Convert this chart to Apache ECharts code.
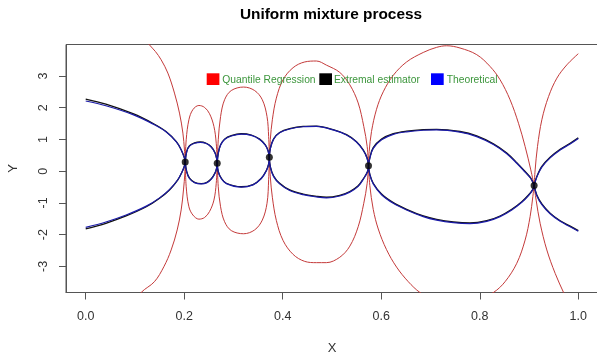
<!DOCTYPE html>
<html>
<head>
<meta charset="utf-8">
<script src="https://cdn.jsdelivr.net/npm/echarts@6/dist/echarts.min.js"></script>
<style>
  html, body { margin: 0; padding: 0; background: #fff; }
  #chart { width: 597px; height: 352px; }
</style>
</head>
<body>
<div id="chart"></div>
<script>
// Tick positions of the two axes
const xTicks = [0, 0.2, 0.4, 0.6, 0.8, 1.0];
const yTicks = [-3, -2, -1, 0, 1, 2, 3];

// Crossing points where all envelopes meet
const crossX = [0.202, 0.267, 0.3728, 0.5741, 0.9103];
const crossY = [0.29, 0.25, 0.44, 0.17, -0.45];

// Extremal estimator: upper and lower envelope, one arc per interval
const extremalUpper = [
  [[0, 2.27], [0.041, 2.11], [0.096, 1.81], [0.136, 1.51], [0.163, 1.25], [0.184, 0.93], [0.194, 0.67], [0.2006, 0.41], [0.202, 0.29]],
  [[0.202, 0.29], [0.205, 0.62], [0.2107, 0.80], [0.2209, 0.89], [0.2325, 0.92], [0.2447, 0.88], [0.2548, 0.77], [0.2623, 0.59], [0.2656, 0.41], [0.267, 0.25]],
  [[0.267, 0.25], [0.2691, 0.57], [0.2738, 0.83], [0.2819, 1.01], [0.2955, 1.12], [0.3158, 1.18], [0.3362, 1.14], [0.3531, 1.01], [0.3646, 0.83], [0.3701, 0.65], [0.3728, 0.44]],
  [[0.3728, 0.44], [0.3748, 0.72], [0.3815, 1.02], [0.3937, 1.22], [0.4141, 1.34], [0.4413, 1.41], [0.4684, 1.42], [0.5023, 1.31], [0.5294, 1.15], [0.5497, 0.93], [0.5633, 0.67], [0.5714, 0.41], [0.5741, 0.17]],
  [[0.5741, 0.17], [0.5768, 0.42], [0.5837, 0.74], [0.6006, 1.01], [0.6244, 1.18], [0.6514, 1.26], [0.6853, 1.31], [0.7124, 1.32], [0.7598, 1.25], [0.7938, 1.11], [0.8277, 0.86], [0.8548, 0.57], [0.8751, 0.27], [0.8920, -0.01], [0.9036, -0.22], [0.9103, -0.45]],
  [[0.9103, -0.45], [0.9158, -0.17], [0.9260, 0.15], [0.9428, 0.44], [0.9632, 0.69], [0.9835, 0.88], [1.0, 1.05]]
];
const extremalLower = [
  [[0, -1.82], [0.041, -1.64], [0.082, -1.41], [0.123, -1.12], [0.150, -0.85], [0.170, -0.59], [0.187, -0.27], [0.196, -0.01], [0.2006, 0.17], [0.202, 0.29]],
  [[0.202, 0.29], [0.205, -0.01], [0.2107, -0.22], [0.2209, -0.35], [0.2345, -0.39], [0.2461, -0.35], [0.2554, -0.23], [0.2623, -0.06], [0.2656, 0.09], [0.267, 0.25]],
  [[0.267, 0.25], [0.2691, -0.01], [0.2752, -0.22], [0.2854, -0.38], [0.3158, -0.49], [0.3396, -0.42], [0.3565, -0.22], [0.3667, 0.02], [0.3714, 0.23], [0.3728, 0.44]],
  [[0.3728, 0.44], [0.3748, 0.14], [0.3815, -0.15], [0.3937, -0.38], [0.4141, -0.59], [0.4413, -0.72], [0.4684, -0.79], [0.4887, -0.82], [0.5158, -0.76], [0.5362, -0.64], [0.5531, -0.46], [0.5645, -0.22], [0.5721, -0.01], [0.5741, 0.17]],
  [[0.5741, 0.17], [0.5768, -0.10], [0.5837, -0.38], [0.6006, -0.72], [0.6244, -0.99], [0.6514, -1.20], [0.6853, -1.41], [0.7124, -1.52], [0.7463, -1.60], [0.7801, -1.63], [0.8141, -1.56], [0.8412, -1.41], [0.8650, -1.20], [0.8853, -0.96], [0.8989, -0.75], [0.9077, -0.57], [0.9103, -0.45]],
  [[0.9103, -0.45], [0.9158, -0.75], [0.9260, -1.03], [0.9428, -1.32], [0.9632, -1.56], [0.9835, -1.73], [1.0, -1.87]]
];

// Theoretical envelope
const theoreticalUpper = [
  [[0, 2.21], [0.041, 2.06], [0.096, 1.78], [0.136, 1.49], [0.163, 1.24], [0.184, 0.92], [0.194, 0.67], [0.2006, 0.41], [0.202, 0.29]],
  [[0.202, 0.29], [0.205, 0.61], [0.2107, 0.79], [0.2209, 0.88], [0.2325, 0.91], [0.2447, 0.87], [0.2548, 0.76], [0.2623, 0.58], [0.2656, 0.41], [0.267, 0.25]],
  [[0.267, 0.25], [0.2691, 0.56], [0.2738, 0.82], [0.2819, 1.00], [0.2955, 1.11], [0.3158, 1.17], [0.3362, 1.13], [0.3531, 1.00], [0.3646, 0.82], [0.3701, 0.64], [0.3728, 0.44]],
  [[0.3728, 0.44], [0.3748, 0.71], [0.3815, 1.01], [0.3937, 1.21], [0.4141, 1.33], [0.4413, 1.40], [0.4684, 1.41], [0.5023, 1.30], [0.5294, 1.14], [0.5497, 0.92], [0.5633, 0.66], [0.5714, 0.40], [0.5741, 0.17]],
  [[0.5741, 0.17], [0.5768, 0.41], [0.5837, 0.72], [0.6006, 0.99], [0.6244, 1.16], [0.6514, 1.24], [0.6853, 1.29], [0.7124, 1.30], [0.7598, 1.23], [0.7938, 1.09], [0.8277, 0.84], [0.8548, 0.55], [0.8751, 0.25], [0.8920, -0.03], [0.9036, -0.23], [0.9103, -0.45]],
  [[0.9103, -0.45], [0.9158, -0.18], [0.9260, 0.13], [0.9428, 0.42], [0.9632, 0.67], [0.9835, 0.86], [1.0, 1.03]]
];
const theoreticalLower = [
  [[0, -1.77], [0.041, -1.60], [0.082, -1.38], [0.123, -1.10], [0.150, -0.84], [0.170, -0.58], [0.187, -0.27], [0.196, -0.01], [0.2006, 0.17], [0.202, 0.29]],
  [[0.202, 0.29], [0.205, -0.02], [0.2107, -0.23], [0.2209, -0.36], [0.2345, -0.40], [0.2461, -0.36], [0.2554, -0.24], [0.2623, -0.07], [0.2656, 0.08], [0.267, 0.25]],
  [[0.267, 0.25], [0.2691, -0.02], [0.2752, -0.23], [0.2854, -0.39], [0.3158, -0.50], [0.3396, -0.43], [0.3565, -0.23], [0.3667, 0.01], [0.3714, 0.22], [0.3728, 0.44]],
  [[0.3728, 0.44], [0.3748, 0.13], [0.3815, -0.17], [0.3937, -0.40], [0.4141, -0.61], [0.4413, -0.74], [0.4684, -0.81], [0.4887, -0.84], [0.5158, -0.78], [0.5362, -0.66], [0.5531, -0.48], [0.5645, -0.23], [0.5721, -0.02], [0.5741, 0.17]],
  [[0.5741, 0.17], [0.5768, -0.11], [0.5837, -0.40], [0.6006, -0.74], [0.6244, -1.01], [0.6514, -1.22], [0.6853, -1.43], [0.7124, -1.54], [0.7463, -1.62], [0.7801, -1.65], [0.8141, -1.58], [0.8412, -1.43], [0.8650, -1.22], [0.8853, -0.98], [0.8989, -0.77], [0.9077, -0.58], [0.9103, -0.45]],
  [[0.9103, -0.45], [0.9158, -0.77], [0.9260, -1.05], [0.9428, -1.34], [0.9632, -1.58], [0.9835, -1.75], [1.0, -1.89]]
];

// Quantile regression envelope (runs past the plotting region in places)
const quantileUpper = [
  [[0.110, 4.40], [0.1293, 3.98], [0.1415, 3.77], [0.1531, 3.51], [0.1668, 3.09], [0.1802, 2.46], [0.1904, 1.83], [0.1973, 1.20], [0.2005, 0.67], [0.202, 0.29]],
  [[0.202, 0.29], [0.2040, 0.99], [0.2095, 1.62], [0.2176, 1.94], [0.2298, 2.07], [0.2412, 2.01], [0.2514, 1.81], [0.2603, 1.41], [0.2650, 0.88], [0.267, 0.25]],
  [[0.267, 0.25], [0.2691, 0.99], [0.2738, 1.72], [0.2819, 2.25], [0.2955, 2.54], [0.3205, 2.65], [0.3429, 2.54], [0.3585, 2.25], [0.3681, 1.72], [0.3714, 1.09], [0.3728, 0.44]],
  [[0.3728, 0.44], [0.3748, 1.00], [0.3789, 1.62], [0.3870, 2.30], [0.4006, 2.88], [0.4210, 3.26], [0.4446, 3.44], [0.4684, 3.47], [0.4887, 3.34], [0.5158, 3.11], [0.5362, 2.72], [0.5531, 2.15], [0.5645, 1.41], [0.5714, 0.78], [0.5741, 0.17]],
  [[0.5741, 0.17], [0.5755, 0.62], [0.5802, 1.25], [0.5904, 1.95], [0.6040, 2.50], [0.6244, 3.02], [0.6514, 3.44], [0.6853, 3.74], [0.7124, 3.90], [0.7328, 3.95], [0.7598, 3.88], [0.7938, 3.67], [0.8208, 3.30], [0.8412, 2.88], [0.8615, 2.25], [0.8786, 1.51], [0.8920, 0.78], [0.9036, 0.04], [0.9103, -0.45]],
  [[0.9103, -0.45], [0.9124, 0.04], [0.9172, 0.78], [0.9260, 1.62], [0.9396, 2.35], [0.9565, 2.93], [0.9768, 3.35], [1.0, 3.70]]
];
const quantileLower = [
  [[0.090, -4.30], [0.1125, -3.82], [0.1395, -3.48], [0.1586, -3.01], [0.1735, -2.48], [0.1857, -1.85], [0.1938, -1.22], [0.1985, -0.59], [0.2013, -0.06], [0.202, 0.29]],
  [[0.202, 0.29], [0.2040, -0.49], [0.2095, -1.12], [0.2176, -1.38], [0.2298, -1.51], [0.2412, -1.46], [0.2514, -1.27], [0.2603, -0.91], [0.2650, -0.38], [0.267, 0.25]],
  [[0.267, 0.25], [0.2691, -0.49], [0.2738, -1.12], [0.2819, -1.59], [0.2955, -1.87], [0.3205, -1.97], [0.3429, -1.85], [0.3585, -1.54], [0.3681, -1.01], [0.3714, -0.27], [0.3728, 0.44]],
  [[0.3728, 0.44], [0.3748, -0.18], [0.3789, -0.82], [0.3870, -1.55], [0.4006, -2.18], [0.4210, -2.62], [0.4446, -2.84], [0.4684, -2.88], [0.4887, -2.88], [0.5158, -2.71], [0.5362, -2.36], [0.5531, -1.75], [0.5645, -1.01], [0.5714, -0.38], [0.5741, 0.17]],
  [[0.5741, 0.17], [0.5768, -0.45], [0.5837, -1.20], [0.5939, -1.82], [0.6107, -2.47], [0.6311, -3.02], [0.6549, -3.48], [0.6785, -3.82], [0.710, -4.10], [0.750, -4.25], [0.790, -4.10], [0.8277, -3.82], [0.8513, -3.48], [0.8751, -2.90], [0.8920, -2.17], [0.9022, -1.43], [0.9077, -0.80], [0.9103, -0.45]],
  [[0.9103, -0.45], [0.9144, -0.91], [0.9225, -1.64], [0.9361, -2.48], [0.9531, -3.22], [0.9701, -3.82], [0.985, -4.30], [1.0, -4.70]]
];

const legendNames = ['Quantile Regression', 'Extremal estimator', 'Theoretical'];
const legendColors = ['#ff0000', '#000000', '#0000ff'];

const FONT = '"Liberation Sans", Arial, Helvetica, sans-serif';
const QR_COLOR = '#c43a3a';
const EXT_COLOR = '#111111';
const THEO_COLOR = '#1a1aa8';
const AXIS_COLOR = '#555';

function arcSeries(name, arcs, color, width, z) {
  return arcs.map(arc => ({
    name: name,
    type: 'line',
    data: arc,
    smooth: 0.35,
    symbol: 'none',
    showSymbol: false,
    clip: true,
    silent: true,
    z: z,
    lineStyle: { color: color, width: width }
  }));
}

const series = [].concat(
  arcSeries(legendNames[0], quantileUpper, QR_COLOR, 1, 2),
  arcSeries(legendNames[0], quantileLower, QR_COLOR, 1, 2),
  arcSeries(legendNames[1], extremalUpper, EXT_COLOR, 1.3, 3),
  arcSeries(legendNames[1], extremalLower, EXT_COLOR, 1.3, 3),
  arcSeries(legendNames[2], theoreticalUpper, THEO_COLOR, 1.2, 4),
  arcSeries(legendNames[2], theoreticalLower, THEO_COLOR, 1.2, 4),
  [{
    type: 'scatter',
    data: crossX.map((x, i) => [x, crossY[i]]),
    symbol: 'circle',
    symbolSize: 7,
    itemStyle: { color: '#000' },
    z: 6,
    silent: true
  }]
);

// Legend row: coloured squares followed by green labels
const legendLeft = [206.7, 319.3, 431];
const legendTextLeft = [222.3, 334, 446.7];
const legendGraphics = [];
legendNames.forEach((name, i) => {
  legendGraphics.push({
    type: 'rect', left: legendLeft[i], top: 73.3, z: 10,
    shape: { width: 12.7, height: 11.7 },
    style: { fill: legendColors[i] }
  });
  legendGraphics.push({
    type: 'text', x: legendTextLeft[i], y: 80, z: 10,
    style: { text: name, fill: '#3c963c', font: '10.3px ' + FONT, textVerticalAlign: 'middle', verticalAlign: 'middle' }
  });
});

const chart = echarts.init(document.getElementById('chart'), null, { renderer: 'canvas' });
chart.setOption({
  animation: false,
  backgroundColor: '#fff',
  title: {
    text: 'Uniform mixture process',
    left: 331, top: 7.5, textAlign: 'center', padding: 0,
    textStyle: { fontSize: 15.4, fontWeight: 'bold', fontFamily: FONT, color: '#000' }
  },
  grid: {
    left: 66, top: 44.5, width: 532, height: 248,
    outerBoundsMode: 'none', containLabel: false,
    show: true, borderColor: AXIS_COLOR, borderWidth: 1, backgroundColor: 'transparent'
  },
  xAxis: {
    type: 'value', min: -0.04, max: 1.04,
    name: 'X', nameLocation: 'middle', nameGap: 49,
    nameTextStyle: { fontSize: 13, fontFamily: FONT, color: '#333' },
    axisLine: { show: true, onZero: false, lineStyle: { color: AXIS_COLOR, width: 1 } },
    splitLine: { show: false },
    axisTick: { show: true, customValues: xTicks, length: 7, lineStyle: { color: AXIS_COLOR } },
    axisLabel: {
      customValues: xTicks, margin: 18,
      formatter: v => v.toFixed(1),
      fontSize: 12.5, fontFamily: FONT, color: '#333'
    }
  },
  yAxis: {
    type: 'value', min: -3.82, max: 3.99,
    name: 'Y', nameLocation: 'middle', nameGap: 46,
    nameTextStyle: { fontSize: 13, fontFamily: FONT, color: '#333' },
    axisLine: { show: true, onZero: false, lineStyle: { color: AXIS_COLOR, width: 1 } },
    splitLine: { show: false },
    axisTick: { show: true, customValues: yTicks, length: 7, lineStyle: { color: AXIS_COLOR } },
    axisLabel: {
      customValues: yTicks, margin: 16, rotate: 90,
      formatter: v => String(v),
      fontSize: 12.5, fontFamily: FONT, color: '#333'
    }
  },
  graphic: legendGraphics,
  series: series
});
</script>
</body>
</html>
